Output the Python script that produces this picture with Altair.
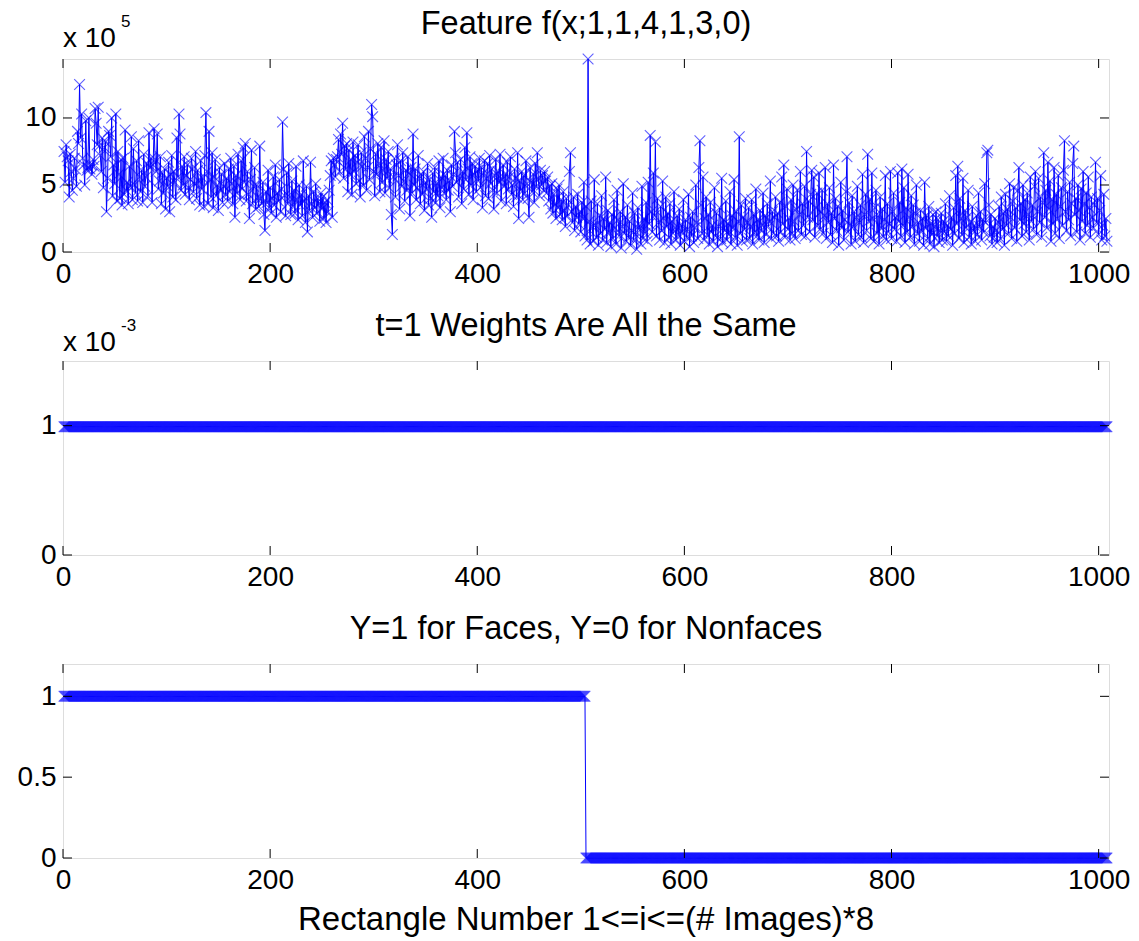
import altair as alt
import pandas as pd

# ---------------- data ----------------
# Feature values (units of 1e5), one per rectangle i = 1..1008
feature_x1e5 = [
    7.5,5.2,8.0,7.1,6.8,4.1,7.3,6.0,4.6,5.5,7.0,6.2,4.9,9.0,8.1,12.5,
    8.5,10.3,7.0,6.5,5.0,9.8,6.1,6.3,10.0,6.2,6.5,5.8,6.9,6.4,10.7,9.6,
    8.0,10.8,7.9,7.2,6.0,8.5,4.8,7.8,8.2,3.0,5.5,9.0,8.7,7.1,10.0,4.2,
    6.5,5.1,10.3,3.8,7.5,5.8,4.0,6.9,3.5,7.0,4.3,9.1,4.6,5.2,3.6,6.4,
    4.9,8.6,3.9,7.7,5.0,4.4,6.8,3.8,8.3,5.6,4.5,6.1,3.7,7.3,4.9,5.6,
    6.6,4.2,8.9,6.3,7.0,3.7,6.5,9.2,6.9,6.0,8.8,4.7,5.3,7.1,3.6,5.9,
    4.4,6.2,3.2,5.5,4.9,6.7,3.0,5.8,7.2,4.1,6.0,5.2,3.9,8.5,5.6,10.3,
    8.8,4.6,6.4,5.0,7.1,4.3,5.7,6.5,4.8,3.9,5.4,7.0,6.2,4.5,5.1,7.5,
    4.0,6.1,5.3,3.5,6.8,4.7,5.5,3.4,7.2,10.4,6.0,3.6,9.0,5.4,4.1,7.4,
    3.3,5.6,6.9,4.2,5.0,3.1,6.3,4.6,5.8,3.7,4.9,6.6,4.3,5.5,3.8,6.2,
    4.5,7.0,5.1,3.6,6.4,2.6,5.7,4.4,7.3,5.0,3.9,6.8,4.7,7.8,5.2,8.1,
    3.8,6.0,4.3,2.5,5.4,7.6,3.6,4.9,6.3,3.2,5.0,4.1,3.4,7.9,4.0,3.6,
    5.2,2.8,1.6,4.5,3.7,6.1,3.3,4.8,2.9,4.0,5.6,3.5,6.5,2.6,4.4,3.8,
    5.4,3.0,4.7,9.7,6.2,4.2,2.7,5.9,3.6,6.6,4.1,2.8,5.3,3.4,4.6,2.9,
    6.4,3.9,2.4,5.0,3.5,4.3,2.7,6.8,3.8,2.2,4.9,1.5,4.2,3.1,6.7,3.6,
    2.6,4.5,3.3,5.1,2.9,4.0,3.6,2.3,4.4,3.2,4.1,2.5,3.7,2.2,3.9,3.0,
    4.6,5.7,6.8,2.6,7.0,6.5,5.6,6.9,7.1,8.4,6.0,8.8,7.3,9.6,5.5,7.9,
    6.2,8.1,4.5,7.6,5.8,6.9,4.3,8.2,6.0,7.2,5.1,6.7,8.0,5.3,4.1,7.4,
    6.4,5.0,8.6,7.0,4.6,6.3,9.0,5.4,7.7,11.0,10.1,6.0,4.2,7.3,5.8,8.1,
    6.6,4.5,7.8,5.2,6.1,8.3,4.4,6.9,5.5,7.5,4.8,6.2,2.8,1.3,5.6,7.0,
    4.1,6.5,8.0,5.7,3.2,6.8,4.9,7.4,5.3,3.8,6.1,4.6,7.1,5.9,2.7,6.3,
    4.4,8.8,5.0,6.2,3.9,4.8,7.2,5.5,3.6,5.8,4.3,6.0,3.1,5.2,4.7,6.6,
    3.5,5.4,4.0,2.6,5.9,4.5,6.3,3.7,5.1,4.2,6.8,3.3,5.6,4.8,7.0,4.4,
    5.7,3.9,6.1,4.6,5.3,3.0,6.5,4.9,5.8,9.0,7.4,5.2,6.7,4.1,5.5,6.9,
    3.6,6.0,4.7,7.8,5.4,8.9,6.2,4.3,7.1,5.0,6.6,3.9,5.8,6.4,4.5,6.1,
    5.3,7.0,4.8,6.3,3.3,5.9,6.8,4.2,5.5,6.6,4.0,7.2,5.1,6.2,4.6,3.2,
    5.7,6.9,4.4,6.0,5.2,7.3,3.8,5.4,6.5,4.9,5.8,3.6,6.7,4.7,5.6,7.1,
    4.3,5.0,3.4,6.2,5.5,4.1,7.4,2.5,5.3,4.6,6.0,3.9,5.7,4.4,6.8,5.1,
    4.0,2.6,6.3,5.2,4.5,5.8,3.7,6.6,4.9,7.4,5.5,4.2,6.1,5.0,5.7,4.6,
    6.0,5.3,4.4,5.6,3.8,4.9,3.2,5.1,2.9,4.3,3.6,2.5,4.7,3.3,5.0,2.8,
    3.9,2.4,4.5,3.1,1.9,4.0,2.7,3.5,6.0,7.4,3.0,2.2,4.1,1.6,3.4,2.6,
    4.3,2.1,3.0,1.5,3.7,2.5,5.2,1.2,3.4,0.9,14.4,2.3,0.6,3.8,1.9,0.8,
    5.4,2.0,1.1,3.6,0.5,2.7,1.4,4.2,0.9,2.5,1.7,5.6,0.7,3.1,1.5,2.2,
    0.4,2.8,1.0,3.9,1.8,0.6,4.6,2.4,1.2,3.0,0.3,1.9,5.1,1.4,2.6,0.8,
    3.5,1.1,2.3,0.5,1.6,4.4,0.9,2.9,1.3,0.2,3.3,1.7,2.0,0.6,4.9,1.0,
    2.5,1.4,3.7,0.8,5.2,2.1,8.7,3.0,1.5,5.9,2.7,8.2,1.2,4.0,2.2,0.9,
    3.4,1.6,5.3,2.5,0.7,4.1,1.9,2.9,1.1,3.6,0.6,2.3,1.4,4.5,1.8,0.9,
    2.7,1.3,3.2,0.5,2.0,1.5,3.9,0.8,2.4,1.1,1.7,4.3,0.4,2.6,1.2,3.0,
    0.7,1.8,5.0,2.2,1.0,6.3,8.3,3.5,1.4,5.6,0.9,2.5,4.1,1.3,2.8,0.6,
    3.7,1.5,2.0,0.8,4.8,1.2,2.9,0.4,1.9,3.3,1.0,5.5,0.7,2.4,1.6,3.8,
    0.9,2.1,1.3,4.5,0.6,2.7,1.8,5.4,1.1,3.0,0.5,2.3,8.6,1.4,3.5,0.8,
    2.6,1.7,4.0,0.9,2.2,3.3,1.0,1.9,3.9,0.6,2.8,1.5,4.7,1.2,2.4,0.9,
    3.1,1.6,2.0,4.4,0.7,2.7,1.3,3.6,1.9,2.3,5.3,1.0,3.0,1.4,2.6,4.1,
    1.2,2.9,0.8,3.7,1.5,5.6,2.1,6.5,1.1,3.4,4.7,1.7,2.5,0.9,3.9,1.4,
    5.0,2.3,1.0,3.2,4.6,1.6,2.8,6.0,1.3,3.6,2.0,4.9,1.2,7.5,2.6,3.8,
    1.5,4.3,6.1,2.4,5.6,1.1,3.3,4.4,2.0,5.9,1.7,3.0,4.6,1.4,2.7,6.3,
    1.0,3.6,2.2,4.8,1.3,2.9,0.7,6.5,2.5,4.0,1.6,3.4,0.5,2.1,5.2,1.8,
    3.1,0.9,2.4,4.5,7.1,1.5,3.7,2.0,0.6,4.2,1.9,3.0,0.8,2.6,4.9,1.3,
    2.2,3.5,1.1,5.8,0.7,2.8,4.3,1.6,7.3,2.3,3.9,1.0,5.9,2.5,0.8,3.3,
    4.6,1.4,2.7,0.6,4.1,1.8,3.2,1.2,2.4,5.7,0.9,3.6,1.5,2.1,6.0,1.0,
    3.0,4.4,1.7,2.6,0.8,5.9,2.3,3.7,1.2,6.2,2.0,4.8,0.7,3.3,1.5,5.8,
    2.6,1.1,4.2,1.9,3.5,0.6,2.9,5.0,1.4,2.2,0.8,3.1,1.6,2.5,0.5,5.2,
    1.8,2.7,1.0,3.4,0.6,2.1,1.3,2.8,0.4,1.9,3.0,1.2,2.4,0.7,1.6,2.9,
    0.9,2.3,1.5,3.6,0.8,2.0,1.2,4.2,1.7,2.6,0.5,3.3,1.4,5.7,2.1,6.4,
    1.0,4.0,2.5,1.3,5.5,0.7,3.1,1.8,2.6,4.6,1.1,2.2,0.6,3.4,1.6,2.0,
    0.8,2.7,1.3,4.4,1.9,3.0,0.9,2.4,1.5,5.1,2.2,7.4,7.6,3.5,1.2,2.8,
    0.6,1.9,1.1,2.5,1.6,0.7,2.2,3.4,1.0,4.1,1.7,2.9,0.5,4.3,2.0,3.2,
    1.4,5.1,2.6,1.0,3.8,4.8,1.8,3.3,0.8,4.6,6.3,2.4,3.6,1.2,5.0,2.1,
    3.9,1.5,4.4,2.8,0.9,5.6,2.3,3.5,1.7,4.9,6.0,1.3,3.0,5.5,2.2,4.1,
    1.1,3.7,7.4,2.6,4.6,1.8,6.7,3.2,5.3,0.8,3.9,2.1,6.3,1.4,4.3,2.5,
    5.7,1.0,3.4,4.8,2.0,6.1,8.3,3.0,1.6,4.5,2.4,5.2,1.2,3.6,6.6,7.9,
    2.8,4.0,1.5,5.0,3.1,0.9,4.7,2.3,6.0,3.6,1.4,4.4,2.0,5.6,3.3,1.1,
    4.1,2.6,1.8,3.5,6.7,2.2,4.0,1.3,3.1,5.7,0.9,2.0,4.3,1.2,2.5,0.8,
]
n_rect = len(feature_x1e5)            # 1008 rectangles
n_faces = 504                          # first half are faces
weights_x1e3 = [1000.0 / 1008] * n_rect   # uniform weights 1/1008, shown in units of 1e-3
labels_y = [1] * n_faces + [0] * (n_rect - n_faces)

titles = ["Feature f(x;1,1,4,1,3,0)",
          "t=1 Weights Are All the Same",
          "Y=1 for Faces, Y=0 for Nonfaces"]
exp_base = "x 10"
exponents = ["5", "-3"]
x_label = "Rectangle Number 1<=i<=(# Images)*8"
x_ticks = [0, 200, 400, 600, 800, 1000]
y_ticks = [[0, 5, 10], [0, 1], [0, 0.5, 1]]
y_domains = [[0, 14.4], [0, 1.5], [0, 1.2]]
x_domain = [0, 1010]

# ---------------- style ----------------
FONT = "Liberation Sans"
W = 1046
HS = [193, 194, 194]
BLUE = "#0000ff"
XPATH = "M-1,-1L1,1M-1,1L1,-1"
TICK = 9
TICK_FS = 28
TITLE_FS = 32.5
XLABEL_FS = 33
SUP_FS = 17


def text_layer(txt, x, y, size, align="center"):
    return alt.Chart(pd.DataFrame({"t": [txt]})).mark_text(
        font=FONT, fontSize=size, align=align, baseline="alphabetic", color="black"
    ).encode(text="t:N", x=alt.value(x), y=alt.value(y))


def panel(values, k, extra_text=None):
    H = HS[k]
    df = pd.DataFrame({"i": list(range(1, n_rect + 1)), "v": values})
    xenc = alt.X("i:Q", scale=alt.Scale(domain=x_domain, nice=False, zero=False),
                 axis=alt.Axis(values=x_ticks, title=None, grid=False, domain=False,
                               ticks=False, labelFontSize=TICK_FS, labelFont=FONT,
                               labelColor="black", labelPadding=8, labelFlush=False,
                               labelOverlap=False, format="d"))
    yenc = alt.Y("v:Q", scale=alt.Scale(domain=y_domains[k], nice=False, zero=False),
                 axis=alt.Axis(values=y_ticks[k], title=None, grid=False, domain=False,
                               ticks=False, labelFontSize=TICK_FS, labelFont=FONT,
                               labelColor="black", labelPadding=7, labelFlush=False,
                               labelOverlap=False, labelExpr="'' + datum.value"))
    base = alt.Chart(df)
    line = base.mark_line(color=BLUE, strokeWidth=1.0, clip=False).encode(x=xenc, y=yenc)
    pts = base.mark_point(shape=XPATH, size=115, filled=False, color=BLUE,
                          strokeWidth=1.1, opacity=0.62, clip=False).encode(x=xenc, y=yenc)
    xt = alt.Chart(pd.DataFrame({"i": x_ticks}))
    yt = alt.Chart(pd.DataFrame({"v": y_ticks[k]}))
    tick_style = dict(color="black", strokeWidth=1)
    ticks = [
        xt.mark_rule(**tick_style).encode(x=xenc, y=alt.value(H - TICK), y2=alt.value(H)),
        xt.mark_rule(**tick_style).encode(x=xenc, y=alt.value(0), y2=alt.value(TICK)),
        yt.mark_rule(**tick_style).encode(y=yenc, x=alt.value(0), x2=alt.value(TICK)),
        yt.mark_rule(**tick_style).encode(y=yenc, x=alt.value(W - TICK), x2=alt.value(W)),
    ]
    layers = [line, pts] + ticks + [text_layer(titles[k], W / 2, -25, TITLE_FS)]
    if extra_text:
        layers += extra_text
    return alt.layer(*layers).properties(width=W, height=H)


p1 = panel(feature_x1e5, 0, [
    text_layer(exp_base, 0, -12, TICK_FS, "left"),
    text_layer(exponents[0], 58, -32, SUP_FS, "left"),
])
p2 = panel(weights_x1e3, 1, [
    text_layer(exp_base, 0, -10, TICK_FS, "left"),
    text_layer(exponents[1], 58, -30, SUP_FS, "left"),
])
p3 = panel(labels_y, 2, [
    text_layer(x_label, W / 2, HS[2] + 72, XLABEL_FS),
])

chart = alt.vconcat(p1, p2, p3, spacing=109, bounds="flush").properties(
    padding={"left": 16, "top": 7, "right": 3, "bottom": 0}
).configure_view(stroke="black", strokeWidth=1).configure(background="white")

chart.save("out.html", embed_options={"renderer": "svg", "actions": False})
